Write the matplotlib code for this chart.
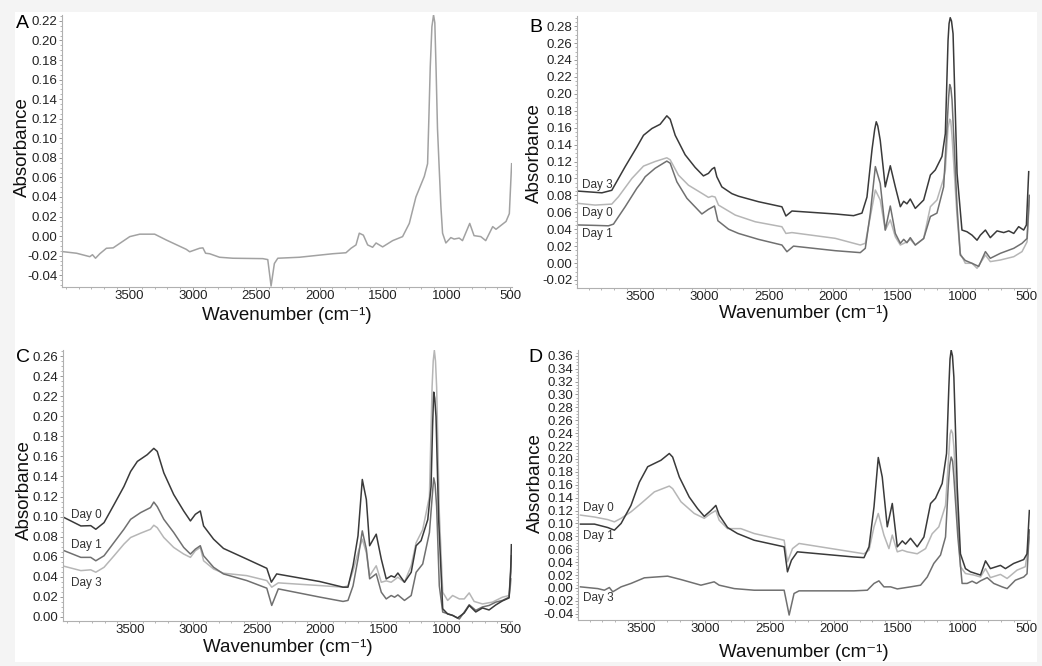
import matplotlib
matplotlib.use("Agg")
import matplotlib.pyplot as plt
import matplotlib.ticker as mtick
from matplotlib.patches import Rectangle

plt.rcParams['font.family'] = ['Liberation Sans', 'DejaVu Sans']
plt.rcParams['axes.unicode_minus'] = False

# ---- data (wavenumber, absorbance) ----
# panel A
a_wn = [4028, 3915, 3811, 3790, 3766, 3732, 3680, 3627, 3496, 3417, 3300, 3208, 3051, 3024,
        2946, 2920, 2899, 2867, 2789, 2684, 2448, 2409, 2383, 2357, 2330, 2160, 1897, 1793,
        1753, 1714, 1688, 1656, 1622, 1583, 1556, 1504, 1425, 1347, 1294, 1242, 1176, 1150,
        1140, 1129, 1116, 1103, 1093, 1083, 1072, 1059, 1045, 1032, 1006, 967, 941, 901, 875,
        818, 784, 731, 692, 637, 611, 532, 506, 488]
a_abs = [-0.0158, -0.0175, -0.021, -0.019, -0.0226, -0.018, -0.0124, -0.012, -0.0005, 0.002,
         0.002, -0.004, -0.0135, -0.016, -0.0124, -0.012, -0.0175, -0.018, -0.0216, -0.0226,
         -0.023, -0.024, -0.051, -0.028, -0.0226, -0.0216, -0.018, -0.017, -0.0124, -0.009,
         0.003, 0.001, -0.009, -0.0114, -0.007, -0.011, -0.0046, -0.0005, 0.013, 0.04, 0.061,
         0.074, 0.12, 0.173, 0.214, 0.226, 0.218, 0.17, 0.11, 0.071, 0.03, 0.003, -0.007,
         -0.0015, -0.003, -0.002, -0.0046, 0.013, 0.0005, -0.0005, -0.0046, 0.0097, 0.007,
         0.015, 0.023, 0.074]

# panel B
b3_wn = [3979, 3797, 3720, 3616, 3526, 3474, 3409, 3345, 3293, 3267, 3228, 3151, 3073, 3009,
         2970, 2943, 2923, 2905, 2866, 2788, 2737, 2582, 2400, 2369, 2322, 1986, 1844, 1779,
         1740, 1701, 1680, 1668, 1656, 1637, 1598, 1559, 1520, 1481, 1455, 1430, 1404, 1365,
         1300, 1248, 1210, 1158, 1132, 1111, 1103, 1094, 1084, 1072, 1041, 1003, 964, 925,
         886, 860, 821, 783, 731, 679, 640, 601, 563, 524, 503, 485]
b3_abs = [0.085, 0.083, 0.086, 0.114, 0.137, 0.151, 0.159, 0.164, 0.174, 0.170, 0.151, 0.128,
          0.113, 0.103, 0.106, 0.111, 0.113, 0.102, 0.090, 0.082, 0.079, 0.0725, 0.0665,
          0.0556, 0.0615, 0.058, 0.056, 0.059, 0.078, 0.134, 0.158, 0.167, 0.162, 0.145, 0.090,
          0.115, 0.090, 0.0666, 0.073, 0.070, 0.0757, 0.0646, 0.0745, 0.104, 0.110, 0.126,
          0.153, 0.263, 0.283, 0.290, 0.286, 0.271, 0.106, 0.039, 0.037, 0.033, 0.027, 0.033,
          0.039, 0.030, 0.038, 0.036, 0.038, 0.035, 0.043, 0.039, 0.045, 0.108]
b0_wn = [3979, 3849, 3720, 3668, 3564, 3474, 3384, 3293, 3267, 3203, 3125, 3021, 2970, 2943,
         2918, 2892, 2762, 2607, 2400, 2369, 2322, 1986, 1792, 1753, 1714, 1675, 1637, 1598,
         1559, 1520, 1481, 1430, 1404, 1365, 1300, 1248, 1197, 1145, 1132, 1111, 1098, 1090,
         1080, 1041, 1016, 977, 925, 886, 821, 783, 705, 601, 537, 498, 480]
b0_abs = [0.0705, 0.0685, 0.0697, 0.0784, 0.100, 0.1146, 0.120, 0.1244, 0.122, 0.104, 0.092,
          0.0824, 0.0776, 0.079, 0.078, 0.0685, 0.0567, 0.0488, 0.0429, 0.035, 0.036, 0.0292,
          0.0213, 0.0233, 0.055, 0.0863, 0.0745, 0.039, 0.051, 0.031, 0.0213, 0.025, 0.028,
          0.0213, 0.029, 0.0666, 0.0745, 0.100, 0.11, 0.16, 0.170, 0.168, 0.150, 0.055, 0.0115,
          -0.0003, -0.0003, -0.0062, 0.0095, 0.0017, 0.0036, 0.0075, 0.0135, 0.025, 0.074]
b1_wn = [3979, 3849, 3746, 3707, 3616, 3526, 3487, 3461, 3384, 3293, 3267, 3215, 3137, 3021,
         2970, 2923, 2897, 2814, 2737, 2582, 2400, 2361, 2310, 1986, 1792, 1753, 1714, 1675,
         1637, 1598, 1559, 1520, 1481, 1455, 1430, 1404, 1365, 1300, 1248, 1197, 1145, 1119,
         1107, 1098, 1089, 1080, 1041, 1016, 977, 925, 873, 821, 783, 705, 601, 537, 498, 480]
b1_abs = [0.045, 0.0445, 0.044, 0.046, 0.0666, 0.0883, 0.096, 0.102, 0.112, 0.1205, 0.118,
          0.096, 0.0765, 0.058, 0.0635, 0.0674, 0.050, 0.040, 0.035, 0.028, 0.0213, 0.0134,
          0.020, 0.0146, 0.0123, 0.0174, 0.059, 0.114, 0.094, 0.039, 0.0674, 0.035, 0.0233,
          0.028, 0.024, 0.030, 0.0213, 0.029, 0.055, 0.059, 0.090, 0.161, 0.195, 0.211, 0.207,
          0.193, 0.0666, 0.0095, 0.003, -0.0003, -0.004, 0.0135, 0.0056, 0.0115, 0.0174,
          0.0233, 0.029, 0.080]

# panel C
c0_wn = [4020, 3889, 3811, 3771, 3706, 3627, 3549, 3496, 3443, 3365, 3313, 3286, 3234, 3156,
         3077, 3024, 2985, 2946, 2920, 2841, 2763, 2579, 2421, 2385, 2343, 2002, 1819, 1780,
         1740, 1701, 1667, 1635, 1609, 1557, 1517, 1478, 1439, 1412, 1386, 1334, 1281, 1242,
         1203, 1150, 1124, 1112, 1103, 1095, 1085, 1064, 1032, 993, 954, 915, 862, 823, 771,
         718, 666, 613, 561, 508, 495, 490]
c0_abs = [0.099, 0.0907, 0.091, 0.0874, 0.094, 0.112, 0.130, 0.145, 0.155, 0.1617, 0.168,
          0.165, 0.1436, 0.122, 0.1056, 0.0957, 0.1023, 0.1056, 0.0907, 0.0775, 0.0683,
          0.0577, 0.0485, 0.0347, 0.0429, 0.0353, 0.0297, 0.0297, 0.051, 0.0808, 0.137,
          0.117, 0.071, 0.0825, 0.0577, 0.0379, 0.041, 0.0396, 0.0438, 0.0346, 0.0445, 0.071,
          0.076, 0.097, 0.130, 0.19, 0.224, 0.218, 0.1996, 0.097, 0.0082, 0.003, 0.0016,
          -0.001, 0.004, 0.0115, 0.005, 0.009, 0.007, 0.012, 0.016, 0.019, 0.045, 0.072]
c1_wn = [4020, 3889, 3811, 3771, 3706, 3627, 3549, 3496, 3417, 3339, 3313, 3286, 3234, 3156,
         3077, 3024, 2985, 2946, 2920, 2841, 2763, 2579, 2421, 2382, 2330, 2002, 1819, 1780,
         1740, 1701, 1667, 1635, 1609, 1557, 1517, 1478, 1439, 1412, 1386, 1334, 1281, 1242,
         1190, 1137, 1115, 1103, 1092, 1080, 1059, 1032, 954, 901, 862, 823, 771, 718, 666,
         613, 561, 508, 490]
c1_abs = [0.066, 0.0594, 0.0594, 0.056, 0.061, 0.0743, 0.0874, 0.0973, 0.104, 0.109, 0.1145,
          0.110, 0.0973, 0.0842, 0.0693, 0.0627, 0.0676, 0.071, 0.061, 0.0495, 0.0429, 0.0363,
          0.0287, 0.0115, 0.028, 0.0198, 0.0155, 0.0165, 0.031, 0.0577, 0.0858, 0.0676, 0.038,
          0.043, 0.0247, 0.018, 0.0214, 0.0197, 0.022, 0.0165, 0.0214, 0.0445, 0.0528, 0.084,
          0.12, 0.1386, 0.132, 0.110, 0.031, 0.0049, 0.0016, -0.002, 0.0049, 0.0122, 0.0066,
          0.01, 0.0115, 0.0148, 0.0165, 0.0197, 0.061]
c3_wn = [4020, 3889, 3811, 3771, 3706, 3627, 3549, 3496, 3417, 3339, 3313, 3286, 3234, 3156,
         3077, 3024, 2985, 2946, 2920, 2841, 2763, 2579, 2421, 2382, 2330, 2002, 1819, 1780,
         1740, 1701, 1667, 1635, 1609, 1557, 1517, 1478, 1439, 1386, 1334, 1281, 1242, 1190,
         1137, 1116, 1107, 1098, 1089, 1080, 1059, 1032, 993, 954, 901, 862, 823, 784, 718,
         640, 561, 508, 490]
c3_abs = [0.0505, 0.0462, 0.047, 0.0446, 0.0495, 0.061, 0.0726, 0.0792, 0.0835, 0.0874,
          0.0914, 0.089, 0.0792, 0.0693, 0.0627, 0.0594, 0.066, 0.0693, 0.056, 0.0478, 0.0436,
          0.0412, 0.0363, 0.0297, 0.034, 0.0313, 0.0297, 0.031, 0.046, 0.064, 0.0775, 0.064,
          0.041, 0.051, 0.0346, 0.036, 0.0346, 0.0396, 0.0346, 0.051, 0.074, 0.087, 0.120,
          0.229, 0.255, 0.2656, 0.255, 0.229, 0.104, 0.0247, 0.0165, 0.0214, 0.018, 0.018,
          0.024, 0.0155, 0.013, 0.0148, 0.0197, 0.0214, 0.038]

# panel D
d1_wn = [3971, 3862, 3759, 3707, 3655, 3578, 3513, 3448, 3345, 3280, 3254, 3202, 3125, 3060,
         3008, 2957, 2918, 2892, 2827, 2750, 2620, 2387, 2361, 2330, 2284, 1844, 1766, 1727,
         1688, 1655, 1624, 1585, 1546, 1507, 1468, 1443, 1404, 1352, 1300, 1248, 1210, 1158,
         1124, 1106, 1097, 1088, 1078, 1067, 1041, 1016, 977, 938, 860, 821, 783, 705, 666,
         602, 524, 498, 480]
d1_abs = [0.099, 0.099, 0.0937, 0.0896, 0.100, 0.128, 0.164, 0.188, 0.198, 0.2085, 0.203,
          0.172, 0.141, 0.123, 0.111, 0.120, 0.128, 0.113, 0.0937, 0.0844, 0.074, 0.0638,
          0.025, 0.043, 0.056, 0.048, 0.047, 0.0638, 0.126, 0.2023, 0.172, 0.0948, 0.131,
          0.0638, 0.073, 0.068, 0.077, 0.0638, 0.079, 0.131, 0.139, 0.162, 0.2085, 0.312,
          0.355, 0.3688, 0.36, 0.327, 0.157, 0.053, 0.030, 0.025, 0.020, 0.042, 0.030, 0.035,
          0.030, 0.038, 0.044, 0.053, 0.12]
d0_wn = [3971, 3862, 3759, 3707, 3655, 3578, 3500, 3396, 3280, 3254, 3189, 3086, 3008, 2957,
         2918, 2892, 2827, 2724, 2620, 2387, 2361, 2322, 2271, 1766, 1727, 1688, 1655, 1611,
         1572, 1546, 1507, 1468, 1430, 1352, 1287, 1236, 1184, 1132, 1106, 1097, 1088, 1077,
         1067, 1036, 1016, 977, 912, 860, 821, 783, 705, 653, 576, 511, 480]
d0_abs = [0.113, 0.110, 0.106, 0.1025, 0.108, 0.118, 0.131, 0.149, 0.158, 0.154, 0.1336,
          0.1155, 0.108, 0.1155, 0.120, 0.105, 0.092, 0.092, 0.0844, 0.074, 0.0405, 0.061,
          0.069, 0.053, 0.0586, 0.0948, 0.1155, 0.082, 0.061, 0.082, 0.056, 0.0586, 0.056,
          0.053, 0.061, 0.084, 0.0948, 0.128, 0.2085, 0.238, 0.245, 0.24, 0.219, 0.105, 0.033,
          0.0224, 0.020, 0.017, 0.030, 0.016, 0.021, 0.0147, 0.0276, 0.033, 0.079]
d3_wn = [3971, 3836, 3785, 3746, 3720, 3655, 3578, 3474, 3293, 3189, 3034, 2931, 2892, 2775,
         2620, 2387, 2348, 2310, 2271, 1844, 1740, 1688, 1650, 1611, 1559, 1507, 1404, 1326,
         1274, 1223, 1171, 1132, 1111, 1099, 1088, 1077, 1067, 1036, 1003, 964, 925, 891, 860,
         808, 757, 692, 653, 589, 524, 498, 480]
d3_abs = [0.0017, -0.001, -0.0035, 0.0007, -0.006, 0.0017, 0.007, 0.0157, 0.0183, 0.013,
          0.0043, 0.0095, 0.0043, -0.001, -0.0035, -0.0035, -0.042, -0.0086, -0.0045, -0.0045,
          -0.0035, 0.007, 0.011, 0.0017, 0.0017, -0.0015, 0.0017, 0.0043, 0.017, 0.038, 0.051,
          0.079, 0.157, 0.19, 0.203, 0.197, 0.172, 0.079, 0.007, 0.007, 0.0105, 0.007, 0.011,
          0.016, 0.007, 0.0017, -0.001, 0.012, 0.017, 0.022, 0.09]

x_ticks = [3500, 3000, 2500, 2000, 1500, 1000, 500]

DARK = '#3a3a3a'
MID = '#707070'
LIGHT = '#b6b6b6'

fig = plt.figure(figsize=(10.42, 6.66), dpi=100, facecolor='#f4f4f4')
fig.patches.append(Rectangle((15 / 1042, 4 / 666), 1022 / 1042, 650 / 666,
                             transform=fig.transFigure, facecolor='white',
                             edgecolor='none', zorder=-5))

ax1 = fig.add_axes([62 / 1042, 1 - 287 / 666, 450 / 1042, 272 / 666])
ax2 = fig.add_axes([577 / 1042, 1 - 288 / 666, 453 / 1042, 272 / 666])
ax3 = fig.add_axes([63 / 1042, 1 - 621 / 666, 449 / 1042, 271 / 666])
ax4 = fig.add_axes([578 / 1042, 1 - 620 / 666, 452 / 1042, 270 / 666])


def style_axis(ax, xlim, ylim, ystep, xlab_y, ylab_x, ylab_y):
    ax.set_facecolor('none')
    ax.set_xlim(*xlim)
    ax.set_ylim(*ylim)
    for s in ['top', 'right']:
        ax.spines[s].set_visible(False)
    for s in ['left', 'bottom']:
        ax.spines[s].set_color('#b0b0b0')
        ax.spines[s].set_linewidth(0.8)
    ax.set_xticks(x_ticks)
    ax.xaxis.set_minor_locator(mtick.MultipleLocator(100))
    ax.yaxis.set_major_locator(mtick.MultipleLocator(ystep))
    ax.yaxis.set_minor_locator(mtick.AutoMinorLocator(4))
    ax.yaxis.set_major_formatter(mtick.FormatStrFormatter('%.2f'))
    ax.tick_params(which='major', length=2.5, width=0.7, color='#999999',
                   labelsize=9.5, labelcolor='#222222', pad=1)
    ax.tick_params(axis='x', which='major', pad=0)
    ax.tick_params(which='minor', length=1.5, width=0.6, color='#aaaaaa')
    ax.set_xlabel('Wavenumber (cm⁻¹)', fontsize=13.5, color='#111111')
    ax.xaxis.set_label_coords(0.5, xlab_y)
    ax.xaxis.label.set_verticalalignment('center')
    ax.set_ylabel('Absorbance', fontsize=13.5, color='#111111')
    ax.yaxis.set_label_coords(ylab_x, ylab_y)
    ax.yaxis.label.set_verticalalignment('center')


# A
ax1.plot(a_wn, a_abs, color='#a2a2a2', lw=1.1)
style_axis(ax1, (4030, 485), (-0.052, 0.226), 0.02, -0.103, -0.087, 0.515)
fig.text(22 / 1042, 1 - 23 / 666, 'A', fontsize=14, ha='center', va='center')

# B
ax2.plot(b0_wn, b0_abs, color=LIGHT, lw=1.1)
ax2.plot(b1_wn, b1_abs, color=MID, lw=1.1)
ax2.plot(b3_wn, b3_abs, color=DARK, lw=1.1)
style_axis(ax2, (3990, 475), (-0.0295, 0.292), 0.02, -0.092, -0.093, 0.496)
ax2.text(3955, 0.092, 'Day 3', fontsize=8.5, color='#333333', va='center')
ax2.text(3955, 0.059, 'Day 0', fontsize=8.5, color='#333333', va='center')
ax2.text(3955, 0.034, 'Day 1', fontsize=8.5, color='#333333', va='center')
fig.text(536 / 1042, 1 - 28 / 666, 'B', fontsize=14, ha='center', va='center')

# C
ax3.plot(c3_wn, c3_abs, color=LIGHT, lw=1.1)
ax3.plot(c1_wn, c1_abs, color=MID, lw=1.1)
ax3.plot(c0_wn, c0_abs, color=DARK, lw=1.1)
style_axis(ax3, (4030, 485), (-0.004, 0.266), 0.02, -0.096, -0.085, 0.485)
ax3.text(3968, 0.102, 'Day 0', fontsize=8.5, color='#333333', va='center')
ax3.text(3968, 0.0716, 'Day 1', fontsize=8.5, color='#333333', va='center')
ax3.text(3968, 0.0337, 'Day 3', fontsize=8.5, color='#333333', va='center')
fig.text(23 / 1042, 1 - 357 / 666, 'C', fontsize=14, ha='center', va='center')

# D
ax4.plot(d0_wn, d0_abs, color=LIGHT, lw=1.1)
ax4.plot(d3_wn, d3_abs, color=MID, lw=1.1)
ax4.plot(d1_wn, d1_abs, color=DARK, lw=1.1)
style_axis(ax4, (3990, 475), (-0.0497, 0.369), 0.02, -0.122, -0.095, 0.507)
ax4.text(3950, 0.1234, 'Day 0', fontsize=8.5, color='#333333', va='center')
ax4.text(3950, 0.080, 'Day 1', fontsize=8.5, color='#333333', va='center')
ax4.text(3950, -0.016, 'Day 3', fontsize=8.5, color='#333333', va='center')
fig.text(535 / 1042, 1 - 358 / 666, 'D', fontsize=14, ha='center', va='center')

fig.savefig('out.png', dpi=100, facecolor=fig.get_facecolor())
